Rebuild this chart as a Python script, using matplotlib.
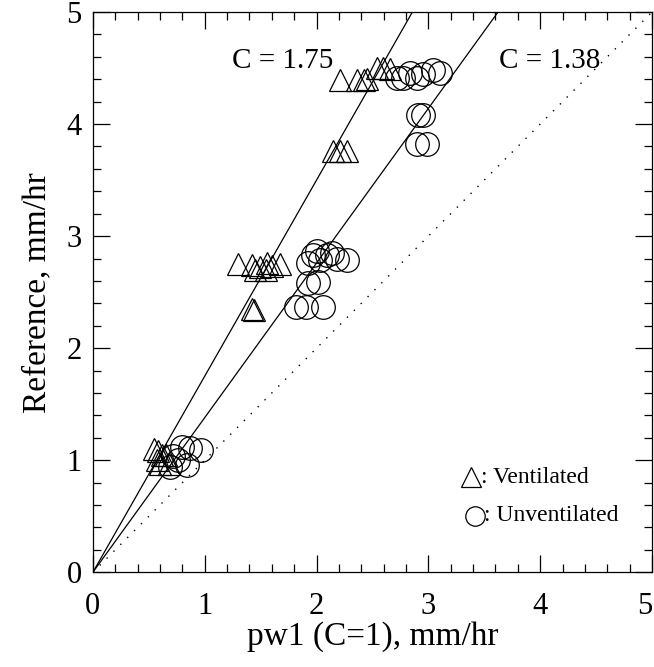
import numpy as np
import matplotlib
matplotlib.use('Agg')
import matplotlib.pyplot as plt

plt.rcParams['font.family'] = ['Liberation Serif', 'DejaVu Serif']

# ventilated gauges (triangles)
vent_x = [0.55, 0.58, 0.62, 0.65, 0.57, 0.60, 0.68,
          1.30, 1.42, 1.49, 1.56, 1.60, 1.67, 1.45, 1.55,
          1.42, 1.44,
          2.15, 2.21, 2.27,
          2.21, 2.36, 2.42, 2.45, 2.54, 2.59, 2.66]
vent_y = [1.10, 1.08, 1.05, 1.05, 1.00, 0.97, 0.97,
          2.75, 2.74, 2.72, 2.76, 2.73, 2.75, 2.70, 2.70,
          2.35, 2.34,
          3.76, 3.76, 3.76,
          4.39, 4.39, 4.39, 4.40, 4.50, 4.50, 4.49]

# unventilated gauges (circles)
unvent_x = [0.72, 0.84, 0.80, 0.87, 0.97, 0.69, 0.76,
            1.92, 1.97, 2.00, 2.03, 2.09, 2.14, 2.18, 2.27, 1.92, 2.01,
            1.82, 1.91, 2.06,
            2.90, 2.99,
            2.91, 2.95,
            2.72, 2.77, 2.84, 2.90, 2.95, 3.04, 3.10]
unvent_y = [1.04, 0.96, 1.12, 1.11, 1.09, 0.94, 1.00,
            2.76, 2.83, 2.87, 2.79, 2.83, 2.85, 2.80, 2.79, 2.58, 2.59,
            2.37, 2.37, 2.37,
            3.82, 3.82,
            4.08, 4.08,
            4.41, 4.41, 4.46, 4.41, 4.45, 4.48, 4.46]

slopes = [1.75, 1.38]

fig = plt.figure(figsize=(6.54, 6.67), dpi=100)
ax = fig.add_axes([0.142, 0.142, 0.855, 0.840])

xx = np.array([0, 5])
for c in slopes:
    ax.plot(xx, c * xx, color='black', lw=0.9)
ax.plot(xx, xx, color='black', lw=1.0, linestyle=(0, (1, 6)))

ax.plot(vent_x, vent_y, linestyle='none', marker='^', markersize=16,
        markerfacecolor='none', markeredgecolor='black', markeredgewidth=0.9)
ax.plot(unvent_x, unvent_y, linestyle='none', marker='o', markersize=17,
        markerfacecolor='none', markeredgecolor='black', markeredgewidth=0.9)

ax.text(1.24, 4.56, 'C = 1.75', fontsize=21, va='center', ha='left')
ax.text(3.63, 4.56, 'C = 1.38', fontsize=21, va='center', ha='left')

# legend drawn by hand
ax.plot([0.677], [0.170], transform=ax.transAxes, marker='^', markersize=14,
        markerfacecolor='none', markeredgecolor='black', markeredgewidth=0.9)
ax.text(0.694, 0.170, ': Ventilated', transform=ax.transAxes, fontsize=17,
        va='center', ha='left')
ax.plot([0.684], [0.101], transform=ax.transAxes, marker='o', markersize=14,
        markerfacecolor='none', markeredgecolor='black', markeredgewidth=0.9)
ax.text(0.700, 0.101, ': Unventilated', transform=ax.transAxes, fontsize=17,
        va='center', ha='left')

ax.set_xlim(0, 5)
ax.set_ylim(0, 5)
ax.set_xticks(range(6))
ax.set_yticks(range(6))
ax.set_xticks(np.arange(0, 5.01, 0.2), minor=True)
ax.set_yticks(np.arange(0, 5.01, 0.2), minor=True)
ax.tick_params(which='both', direction='in', top=True, right=True,
               labelsize=22, width=0.9)
ax.tick_params(which='major', length=12)
ax.tick_params(which='minor', length=6)
ax.tick_params(axis='x', which='major', pad=14)
ax.tick_params(axis='y', which='major', pad=8)
ax.get_xticklabels()[-1].set_ha('right')
for s in ax.spines.values():
    s.set_linewidth(0.9)

ax.set_xlabel('pw1 (C=1), mm/hr', fontsize=24, labelpad=0)
ax.set_ylabel('Reference, mm/hr', fontsize=24, labelpad=10)

fig.savefig('out.png', dpi=100)
